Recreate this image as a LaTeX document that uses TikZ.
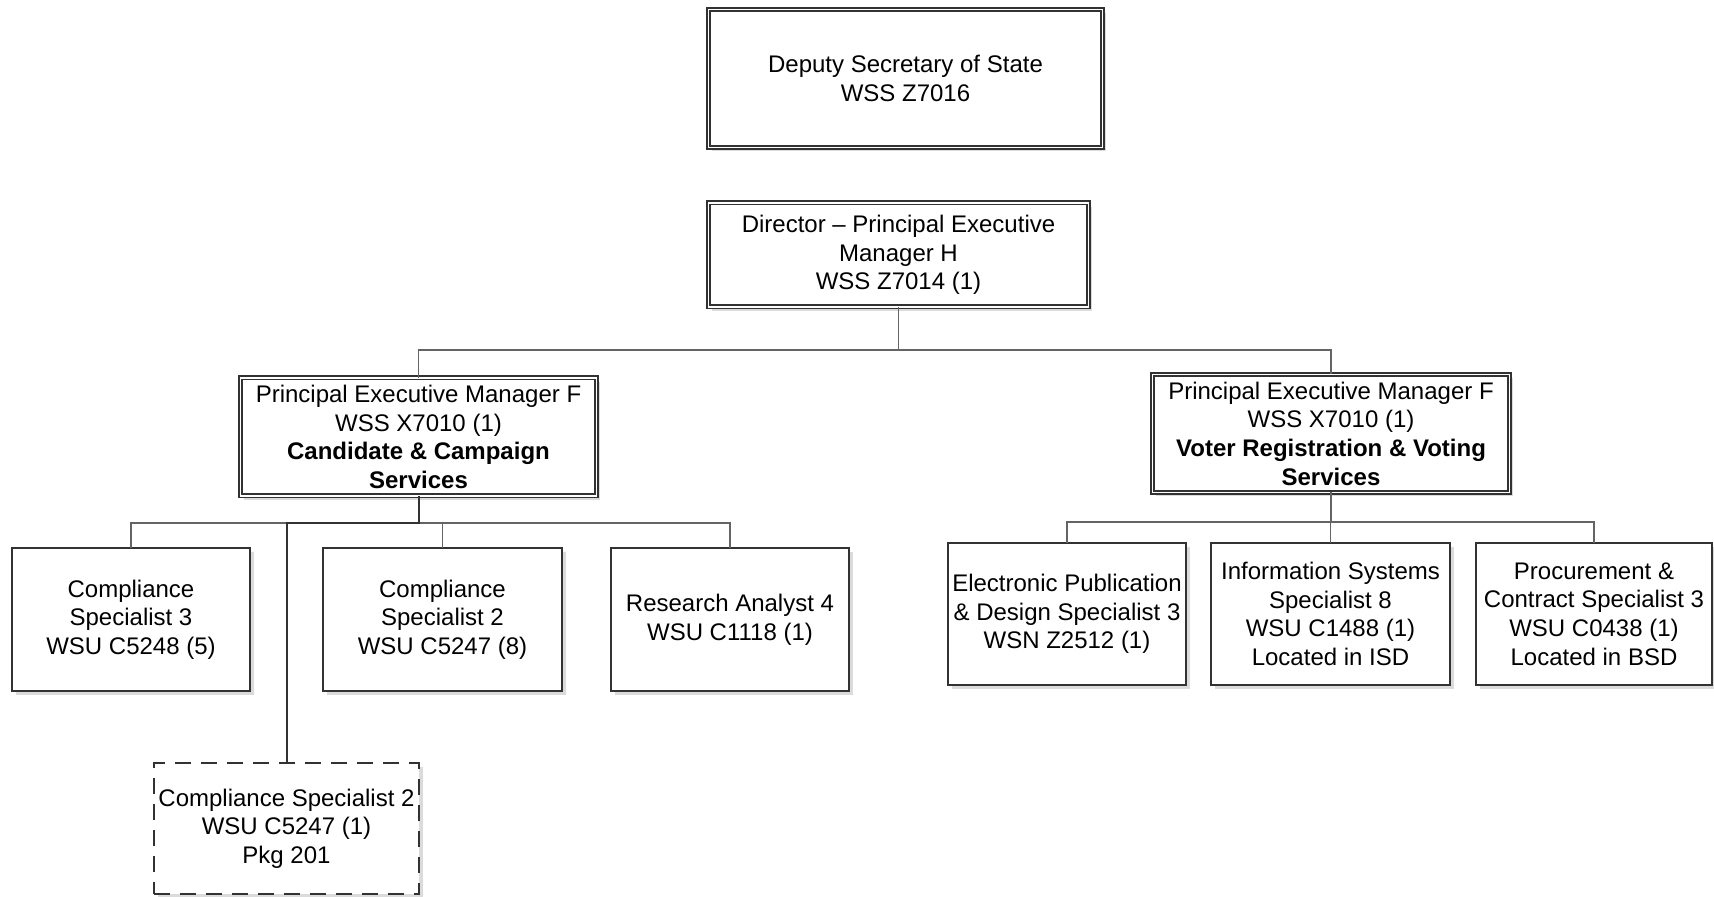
\documentclass[tikz,border=0pt]{standalone}
\usepackage{fontspec}
\setmainfont{Liberation Sans}
\usetikzlibrary{shadows}
\definecolor{boxline}{RGB}{50,50,50}
\definecolor{thinline}{RGB}{100,100,100}
\begin{document}
\begin{tikzpicture}[x=0.5pt,y=-0.5pt,
  base/.style={fill=white, inner sep=0pt, outer sep=0pt, align=center,
    font=\fontsize{12}{14.35}\selectfont, text=black,
    drop shadow={shadow xshift=1.8pt, shadow yshift=-1.8pt, fill=black!14, opacity=1}},
  dblbox/.style={base, draw=boxline, line width=0.8pt, double=white, double distance=0.9pt},
  sglbox/.style={base, draw=boxline, line width=1pt},
  dashbox/.style={base, draw=boxline, line width=1pt, dash pattern=on 8pt off 5pt},
  thin/.style={draw=thinline, line width=0.55pt},
  thickc/.style={draw=boxline, line width=1pt}
]
\useasboundingbox (0,0) rectangle (1714,897);

\node[dblbox, minimum width=197pt, minimum height=69pt] (dss) at (905.5,78.5)
  {Deputy Secretary of State\\WSS Z7016};
\node[dblbox, minimum width=190pt, minimum height=52pt] (dir) at (898.5,255)
  {Director -- Principal Executive\\Manager H\\WSS Z7014 (1)};
\node[dblbox, minimum width=178pt, minimum height=59pt] (pemL) at (418.5,437)
  {Principal Executive Manager F\\WSS X7010 (1)\\\textbf{Candidate \& Campaign}\\\textbf{Services}};
\node[dblbox, minimum width=178.5pt, minimum height=59pt] (pemR) at (1331,433.5)
  {Principal Executive Manager F\\WSS X7010 (1)\\\textbf{Voter Registration \& Voting}\\\textbf{Services}};

\node[sglbox, minimum width=119pt, minimum height=71.5pt] (cs3) at (131,619.5)
  {Compliance\\Specialist 3\\WSU C5248 (5)};
\node[sglbox, minimum width=119.5pt, minimum height=71.5pt] (cs2) at (442.5,619.5)
  {Compliance\\Specialist 2\\WSU C5247 (8)};
\node[sglbox, minimum width=119pt, minimum height=71.5pt] (ra4) at (730,619.5)
  {Research Analyst 4\\WSU C1118 (1)};
\node[dashbox, minimum width=132.5pt, minimum height=65.5pt] (dsh) at (286.5,828.5)
  {Compliance Specialist 2\\WSU C5247 (1)\\Pkg 201};

\node[sglbox, minimum width=119pt, minimum height=71pt] (epds) at (1067,614)
  {Electronic Publication\\\& Design Specialist 3\\WSN Z2512 (1)};
\node[sglbox, minimum width=119.5pt, minimum height=71pt] (iss) at (1330.5,614)
  {Information Systems\\Specialist 8\\WSU C1488 (1)\\Located in ISD};
\node[sglbox, minimum width=118pt, minimum height=71pt] (pcs) at (1594,614)
  {Procurement \&\\Contract Specialist 3\\WSU C0438 (1)\\Located in BSD};

\coordinate (jt) at (898.5,350);
\coordinate (jl) at (418.5,523);
\coordinate (jr) at (1331,522);

\draw[thin] (dir.south) -- (jt);
\draw[thin] (pemL.north) |- (jt) -| (pemR.north);

\draw[thin] (cs3.north) |- (jl) -| (ra4.north);
\draw[thin] (cs2.north) -- (cs2.north |- jl);
\draw[thickc] (pemL.south) -- (jl) -| (dsh.north);

\draw[thin] (pemR.south) -- (jr);
\draw[thin] (epds.north) |- (jr) -| (pcs.north);
\draw[thin] (iss.north) -- (iss.north |- jr);
\end{tikzpicture}
\end{document}
